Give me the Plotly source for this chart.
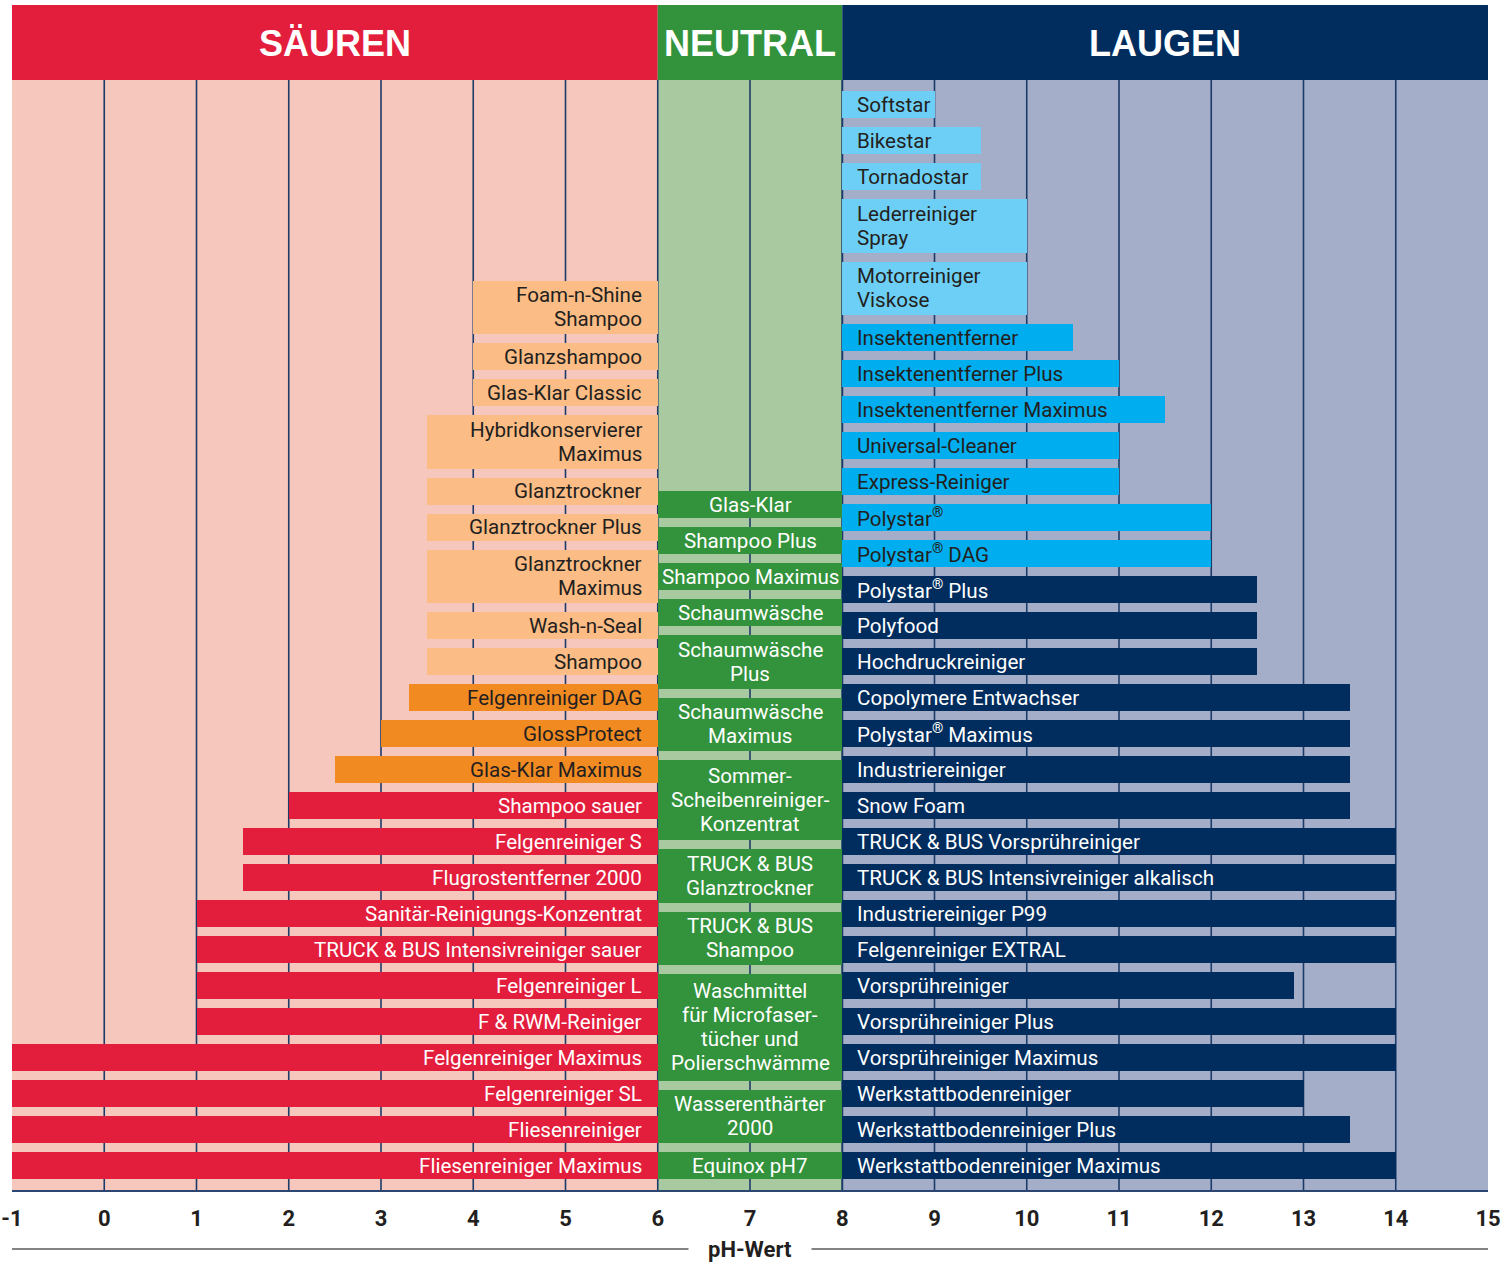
import plotly.graph_objects as go

# ---------------- data ----------------
acid_names = [
    "Foam-n-Shine<br>Shampoo", "Glanzshampoo", "Glas-Klar Classic",
    "Hybridkonservierer<br>Maximus", "Glanztrockner", "Glanztrockner Plus",
    "Glanztrockner<br>Maximus", "Wash-n-Seal", "Shampoo", "Felgenreiniger DAG",
    "GlossProtect", "Glas-Klar Maximus", "Shampoo sauer", "Felgenreiniger S",
    "Flugrostentferner 2000", "Sanitär-Reinigungs-Konzentrat",
    "TRUCK & BUS Intensivreiniger sauer", "Felgenreiniger L", "F & RWM-Reiniger",
    "Felgenreiniger Maximus", "Felgenreiniger SL", "Fliesenreiniger",
    "Fliesenreiniger Maximus",
]
acid_ph = [4, 4, 4, 3.5, 3.5, 3.5, 3.5, 3.5, 3.5, 3.3, 3, 2.5, 2, 1.5, 1.5,
           1, 1, 1, 1, -1, -1, -1, -1]

neutral_names = [
    "Glas-Klar", "Shampoo Plus", "Shampoo Maximus", "Schaumwäsche",
    "Schaumwäsche<br>Plus", "Schaumwäsche<br>Maximus",
    "Sommer-<br>Scheibenreiniger-<br>Konzentrat", "TRUCK & BUS<br>Glanztrockner",
    "TRUCK & BUS<br>Shampoo",
    "Waschmittel<br>für Microfaser-<br>tücher und<br>Polierschwämme",
    "Wasserenthärter<br>2000", "Equinox pH7",
]
neutral_range = [6, 8]

base_names = [
    "Softstar", "Bikestar", "Tornadostar", "Lederreiniger<br>Spray",
    "Motorreiniger<br>Viskose", "Insektenentferner", "Insektenentferner Plus",
    "Insektenentferner Maximus", "Universal-Cleaner", "Express-Reiniger",
    "Polystar<sup>®</sup>", "Polystar<sup>®</sup> DAG", "Polystar<sup>®</sup> Plus",
    "Polyfood", "Hochdruckreiniger", "Copolymere Entwachser",
    "Polystar<sup>®</sup> Maximus", "Industriereiniger", "Snow Foam",
    "TRUCK & BUS Vorsprühreiniger", "TRUCK & BUS Intensivreiniger alkalisch",
    "Industriereiniger P99", "Felgenreiniger EXTRAL", "Vorsprühreiniger",
    "Vorsprühreiniger Plus", "Vorsprühreiniger Maximus", "Werkstattbodenreiniger",
    "Werkstattbodenreiniger Plus", "Werkstattbodenreiniger Maximus",
]
base_ph = [9, 9.5, 9.5, 10, 10, 10.5, 11, 11.5, 11, 11, 12, 12, 12.5, 12.5,
           12.5, 13.5, 13.5, 13.5, 13.5, 14, 14, 14, 14, 12.9, 14, 14, 13,
           13.5, 14]

x_ticks = list(range(-1, 16))
headers = ["SÄUREN", "NEUTRAL", "LAUGEN"]
axis_title = "pH-Wert"

# ---------------- style ----------------
RED = "#e31d3c"
ORANGE = "#f28a22"
LORANGE = "#fbbc85"
PINK_BG = "#f6c7bd"
GREEN = "#33923c"
LGREEN_BG = "#a9caa0"
NAVY = "#002d5e"
CYAN = "#00aeef"
LBLUE = "#6dcff6"
LAV_BG = "#a4aec8"
GRID = "#1d3b68"
DARK = "#231f20"
FONT = "Roboto, 'Open Sans', sans-serif"
HFONT = "'Liberation Sans Narrow', 'Arial Narrow', 'Liberation Sans', Arial, sans-serif"
FS = 20.6
HFS = 36

XMIN, XMAX = x_ticks[0], x_ticks[-1]
ACID_END, BASE_START = neutral_range

FIG_W, FIG_H = 1510, 1263

# vertical layout (1 y-unit = 1 px; page pixel = 5 + y)
Y_TOP_PLOT = 75          # bottom of header band
Y_END = 1185             # axis line
BOTTOM = 1174            # bottom edge of lowest bar
BAR1 = 27
LINE_H = 26.5            # bar growth per extra text line
TXT_LINE = 24            # text line pitch
GAP = 9
TITLE_Y = -59 / Y_END


def stack(names):
    heights = [BAR1 + LINE_H * n.count("<br>") for n in names]
    centers = []
    y = BOTTOM
    for h in reversed(heights):
        centers.append(y - h / 2)
        y -= h + GAP
    return centers[::-1], heights


def acid_color(p):
    if p >= 3.5:
        return LORANGE
    if p >= 2.5:
        return ORANGE
    return RED


def base_color(p):
    if p <= 10:
        return LBLUE
    if p <= 12:
        return CYAN
    return NAVY


def txt_color(c):
    return "white" if c in (RED, NAVY, GREEN) else DARK


acid_y, acid_h = stack(acid_names)
neu_y, neu_h = stack(neutral_names)
base_y, base_h = stack(base_names)

acid_cols = [acid_color(p) for p in acid_ph]
base_cols = [base_color(p) for p in base_ph]

fig = go.Figure()

fig.add_trace(go.Bar(
    orientation="h", y=acid_y, base=acid_ph,
    x=[ACID_END - max(p, XMIN) for p in acid_ph], width=acid_h,
    marker=dict(color=acid_cols, line=dict(width=0)), hoverinfo="skip",
))
fig.add_trace(go.Bar(
    orientation="h", y=neu_y, base=[ACID_END] * len(neutral_names),
    x=[BASE_START - ACID_END] * len(neutral_names), width=neu_h,
    marker=dict(color=GREEN, line=dict(width=0)), hoverinfo="skip",
))
fig.add_trace(go.Bar(
    orientation="h", y=base_y, base=[BASE_START] * len(base_names),
    x=[p - BASE_START for p in base_ph], width=base_h,
    marker=dict(color=base_cols, line=dict(width=0)), hoverinfo="skip",
))

zones = [(XMIN, ACID_END), (ACID_END, BASE_START), (BASE_START, XMAX)]
shapes = []
for (x0, x1), c in zip(zones, [PINK_BG, LGREEN_BG, LAV_BG]):
    shapes.append(dict(type="rect", xref="x", yref="y", x0=x0, x1=x1,
                       y0=Y_TOP_PLOT, y1=Y_END, fillcolor=c, line_width=0,
                       layer="below"))
for t in x_ticks[1:-1]:
    shapes.append(dict(type="line", xref="x", yref="y", x0=t, x1=t,
                       y0=Y_TOP_PLOT, y1=Y_END,
                       line=dict(color=GRID, width=2 if t == BASE_START else 1.6),
                       layer="between"))
for (x0, x1), c in zip(zones, [RED, GREEN, NAVY]):
    shapes.append(dict(type="rect", xref="x", yref="y", x0=x0, x1=x1,
                       y0=0, y1=Y_TOP_PLOT, fillcolor=c, line_width=0,
                       layer="above"))
shapes.append(dict(type="line", xref="paper", yref="paper", x0=0, x1=1,
                   y0=TITLE_Y, y1=TITLE_Y,
                   line=dict(color="#5a5a5a", width=1.6)))

ann = []
for (x0, x1), h in zip(zones, headers):
    ann.append(dict(x=(x0 + x1) / 2, y=38, xref="x", yref="y",
                    text="<b>" + h + "</b>", showarrow=False,
                    font=dict(family=HFONT, size=HFS, color="white"),
                    xanchor="center", yanchor="middle"))


def add_label(text, x, y, anchor, shift, color):
    lines = text.split("<br>")
    n = len(lines)
    for i, line in enumerate(lines):
        ann.append(dict(x=x, y=y + (i - (n - 1) / 2) * TXT_LINE, xref="x",
                        yref="y", text=line, showarrow=False, xanchor=anchor,
                        yanchor="middle", xshift=shift,
                        font=dict(family=FONT, size=FS, color=color)))


for n, y, c in zip(acid_names, acid_y, acid_cols):
    add_label(n, ACID_END, y, "right", -14, txt_color(c))
for n, y in zip(neutral_names, neu_y):
    add_label(n, (ACID_END + BASE_START) / 2, y, "center", 0, "white")
for n, y, c in zip(base_names, base_y, base_cols):
    add_label(n, BASE_START, y, "left", 13, txt_color(c))

ann.append(dict(x=(ACID_END + BASE_START) / 2, y=TITLE_Y, xref="x",
                yref="paper", text="<b>" + axis_title + "</b>", showarrow=False,
                xanchor="center", yanchor="middle", bgcolor="white", width=120,
                font=dict(family=FONT, size=22, color=DARK)))

fig.update_layout(
    width=FIG_W, height=FIG_H,
    margin=dict(l=12, r=22, t=5, b=73, autoexpand=False),
    paper_bgcolor="white", plot_bgcolor="white",
    barmode="overlay", bargap=0, showlegend=False,
    shapes=shapes, annotations=ann,
    xaxis=dict(range=[XMIN, XMAX], tickvals=x_ticks,
               ticktext=["<b>%d</b>" % t for t in x_ticks],
               showgrid=False, zeroline=False, showline=True,
               linecolor="#2b4670", linewidth=1.6, ticks="",
               ticklabelstandoff=8, ticklabeloverflow="allow", automargin=False,
               tickfont=dict(family=FONT, size=22, color=DARK), fixedrange=True),
    yaxis=dict(range=[Y_END, 0], visible=False, showgrid=False,
               zeroline=False, fixedrange=True, automargin=False),
)

fig.write_html("out.html", config={"displayModeBar": False},
               post_script="document.body.style.margin='0px';"
                           "document.body.style.overflow='hidden';")
